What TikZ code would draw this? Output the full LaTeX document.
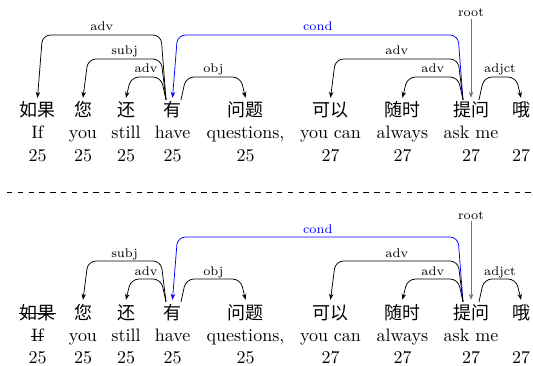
\documentclass[tikz,border=0pt]{standalone}
\usepackage{fontspec}
\newfontfamily\cjk{Noto Sans CJK SC}
\newfontfamily\wordfont{lmroman10-regular}[Extension=.otf]
\newfontfamily\labelfont{lmroman7-regular}[Extension=.otf]
\usetikzlibrary{arrows.meta,calc}
\begin{document}
\begin{tikzpicture}[x=1pt,y=1pt,
  zh/.style={font=\cjk\fontsize{18}{20}\selectfont, inner sep=0pt,
             text height=14pt, text depth=2pt, anchor=base},
  en/.style={font=\wordfont\fontsize{18}{20}\selectfont, inner sep=0pt, anchor=base},
  lblfont/.style={font=\labelfont\fontsize{12.6}{15}\selectfont},
  lbl/.style={lblfont, inner sep=0pt, anchor=base, yshift=4pt, midway},
  dep/.style={line width=0.75pt, rounded corners=8pt,
              -{Stealth[length=6pt,width=4.5pt]}},
  rootdep/.style={line width=0.75pt, draw=black!55,
              -{Stealth[length=6pt,width=4.5pt]}},
  strike/.style={line width=0.75pt},
  % slanted, round-cornered arc at absolute height #1
  arch/.style={to path={let \p1=(\tikztostart), \p2=(\tikztotarget),
      \n1={5*sign(\x2-\x1)} in
      -- (\x1+\n1,#1) -- (\x2-\n1,#1) \tikztonodes -- (\tikztotarget)}},
]
\useasboundingbox (0,0) rectangle (533,365);

% two copies of the sentence: t = upper, b = lower
\foreach \s/\dy in {t/0,b/-202}{
  \foreach \x/\z/\e/\n [count=\i] in {
      37.5/如果/If/25, 83/您/you/25, 126/还/still/25, 172.5/有/have/25,
      245.5/问题/{questions,}/25, 330.5/可以/you can/27, 402.5/随时/always/27,
      471/提问/ask me/27, 521/哦//27}{
    \node[zh] (\s w\i) at (\x,248+\dy) {\z};
    \node[en] (\s e\i) at (\x,226+\dy) {\e};
    \node[en] (\s n\i) at (\x,204+\dy) {\n};
    \coordinate (\s T\i) at ($(\s w\i.north)+(0,5)$);
  }
  \coordinate (\s L4) at ($(\s w4.north)+(-6.5,3)$);
  \coordinate (\s R4) at ($(\s w4.north)+(8.5,3)$);
  \coordinate (\s L8) at ($(\s w8.north)+(-8,3)$);
  \coordinate (\s R8) at ($(\s w8.north)+(8,3)$);
}

% upper tree
\draw[dep] (tL4) to[arch=330] node[lbl]{adv} (tT1);
\draw[dep] (tL4) to[arch=306] node[lbl]{subj} (tT2);
\draw[dep] (tL4) to[arch=288] node[lbl]{adv} (tT3);
\draw[dep] (tR4) to[arch=288] node[lbl]{obj} (tT5);
\draw[dep,blue] (tL8) to[arch=330] node[lbl,text=blue]{cond} (tT4);
\draw[dep] (tL8) to[arch=306] node[lbl]{adv} (tT6);
\draw[dep] (tL8) to[arch=288] node[lbl]{adv} (tT7);
\draw[dep] (tR8) to[arch=288] node[lbl]{adjct} (tT9);
\node[lblfont, inner sep=1.5pt, anchor=base] (troot) at (471,348) {root};
\draw[rootdep] (troot.south) -- (tT8);

% separator
\draw[line width=0.75pt, dash pattern=on 5.4pt off 5.4pt] (7,173) -- (533,173);

% lower tree, first word removed
\draw[dep] (bL4) to[arch=104] node[lbl]{subj} (bT2);
\draw[dep] (bL4) to[arch=86] node[lbl]{adv} (bT3);
\draw[dep] (bR4) to[arch=86] node[lbl]{obj} (bT5);
\draw[dep,blue] (bL8) to[arch=128] node[lbl,text=blue]{cond} (bT4);
\draw[dep] (bL8) to[arch=104] node[lbl]{adv} (bT6);
\draw[dep] (bL8) to[arch=86] node[lbl]{adv} (bT7);
\draw[dep] (bR8) to[arch=86] node[lbl]{adjct} (bT9);
\node[lblfont, inner sep=1.5pt, anchor=base] (broot) at (471,146) {root};
\draw[rootdep] (broot.south) -- (bT8);

\draw[strike] (bw1.west) -- (bw1.east);
\draw[strike] ([yshift=4.5pt]be1.base west) -- ([yshift=4.5pt]be1.base east);
\end{tikzpicture}
\end{document}
